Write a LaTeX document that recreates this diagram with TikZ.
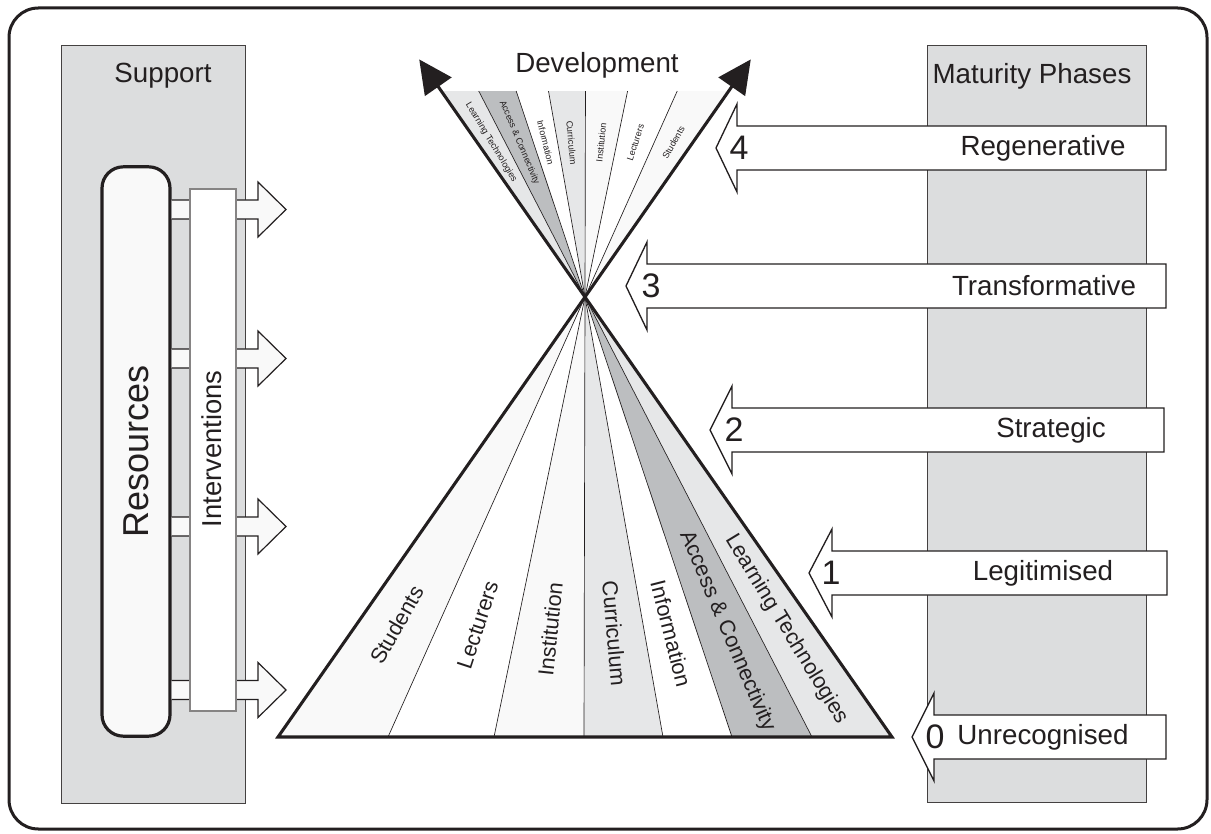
\documentclass[tikz,border=0pt]{standalone}
\usepackage{fontspec}
\setmainfont{Liberation Sans}
\usetikzlibrary{calc,arrows.meta}

\definecolor{ink}{HTML}{231F20}
\definecolor{colgray}{HTML}{DCDDDE}
\definecolor{paper}{HTML}{F9F9F9}
\definecolor{lightgray}{HTML}{E6E7E8}
\definecolor{midgray}{HTML}{BCBEC0}

\begin{document}
\begin{tikzpicture}[x=0.75pt, y=-0.75pt, color=ink,
    column/.style={draw=ink!85, fill=colgray, line width=0.6pt},
    titletext/.style={inner sep=0pt, font=\fontsize{20.8}{25}\selectfont},
    wedgetext/.style={inner sep=0pt, font=\fontsize{16.3}{19}\selectfont},
    fantext/.style={inner sep=0pt, font=\fontsize{6.8}{8}\selectfont},
    phasenum/.style={inner sep=0pt, font=\fontsize{25.5}{30}\selectfont},
    supparrow/.style={draw=ink, fill=paper, line width=0.9pt},
    phasearrow/.style={draw=ink, fill=white, line width=1pt},
    divline/.style={draw=ink, line width=0.5pt},
    fanedge/.style={draw=ink, line width=2.3pt,
        {Triangle[length=25pt,width=24pt]}-{Triangle[length=25pt,width=24pt]}}]

        \useasboundingbox (0,0) rectangle (1211,834);

        % Outer frame
        \draw[line width=2.25pt, rounded corners=22pt] (9,8) rectangle (1207,829);

        % Side columns
        \draw[column] (61,45) rectangle (245,803);
        \draw[column] (927,45) rectangle (1146,802);
        \node[titletext] (support) at (163,76) {Support};
        \node[titletext] (maturity) at (1032,76) {Maturity Phases};

        % Resources
        \node[draw=ink, line width=2.4pt, fill=paper, rounded corners=16pt,
              inner sep=0pt, minimum width=51pt, minimum height=427pt] (res) at (136,451.5) {};
        \node[rotate=90, inner sep=0pt, font=\fontsize{27}{32}\selectfont] (restext) at (res.center) {Resources};

        % Arrows out of the support column
        \draw[supparrow] (res.east |- 0,200) -- (258,200) -- (258,182) -- (286,209.5)
            -- (258,237) -- (258,219) -- (res.east |- 0,219);
        \draw[supparrow] (res.east |- 0,349) -- (258,349) -- (258,331) -- (286,358.5)
            -- (258,386) -- (258,368) -- (res.east |- 0,368);
        \draw[supparrow] (res.east |- 0,517) -- (258,517) -- (258,499) -- (286,526.5)
            -- (258,554) -- (258,536) -- (res.east |- 0,536);
        \draw[supparrow] (res.east |- 0,680.5) -- (258,680.5) -- (258,662.5) -- (286,690)
            -- (258,717.5) -- (258,699.5) -- (res.east |- 0,699.5);

        % Interventions
        \node[draw=ink!55, line width=1pt, fill=white, inner sep=0pt,
              minimum width=34.5pt, minimum height=391.5pt] (intv) at (213,450) {};
        \node[rotate=90, inner sep=0pt, font=\fontsize{20.5}{24}\selectfont] (intvtext) at (212,449) {Interventions};

        % Base points of the lower triangle
        \coordinate (apex) at (585,297);
        \coordinate (b0) at (278,737);
        \coordinate (b1) at (388,737);
        \coordinate (b2) at (494,737);
        \coordinate (b3) at (584,737);
        \coordinate (b4) at (663,737);
        \coordinate (b5) at (732,737);
        \coordinate (b6) at (812,737);
        \coordinate (b7) at (892,737);

        % Mirrored points of the upper fan
        \coordinate (t0) at ($(apex)!-0.468!(b0)$);
        \coordinate (t1) at ($(apex)!-0.468!(b1)$);
        \coordinate (t2) at ($(apex)!-0.468!(b2)$);
        \coordinate (t3) at ($(apex)!-0.468!(b3)$);
        \coordinate (t4) at ($(apex)!-0.468!(b4)$);
        \coordinate (t5) at ($(apex)!-0.468!(b5)$);
        \coordinate (t6) at ($(apex)!-0.468!(b6)$);
        \coordinate (t7) at ($(apex)!-0.468!(b7)$);

        % Wedge fills
        \fill[paper] (t0) -- (b0) -- (b1) -- (t1) -- cycle;
        \fill[white] (t1) -- (b1) -- (b2) -- (t2) -- cycle;
        \fill[paper] (t2) -- (b2) -- (b3) -- (t3) -- cycle;
        \fill[lightgray] (t3) -- (b3) -- (b4) -- (t4) -- cycle;
        \fill[white] (t4) -- (b4) -- (b5) -- (t5) -- cycle;
        \fill[midgray] (t5) -- (b5) -- (b6) -- (t6) -- cycle;
        \fill[lightgray] (t6) -- (b6) -- (b7) -- (t7) -- cycle;

        % Dividing lines
        \draw[divline] (t1) -- (b1);
        \draw[divline] (t2) -- (b2);
        \draw[divline] (t3) -- (b3);
        \draw[divline] (t4) -- (b4);
        \draw[divline] (t5) -- (b5);
        \draw[divline] (t6) -- (b6);

        % Thick edges with development arrows
        \coordinate (tipR) at ($(apex)!-0.54!(b0)$);
        \coordinate (tipL) at ($(apex)!-0.54!(b7)$);
        \draw[fanedge] (tipR) -- (b0) -- (b7) -- (tipL);
        \node[titletext] (dev) at (597,65) {Development};

        % Middles of the wedges
        \coordinate (m0) at ($(b0)!0.5!(b1)$);
        \coordinate (m1) at ($(b1)!0.5!(b2)$);
        \coordinate (m2) at ($(b2)!0.5!(b3)$);
        \coordinate (m3) at ($(b3)!0.5!(b4)$);
        \coordinate (m4) at ($(b4)!0.5!(b5)$);
        \coordinate (m5) at ($(b5)!0.5!(b6)$);
        \coordinate (m6) at ($(b6)!0.5!(b7)$);

        % Lower labels
        \node[wedgetext, rotate=60.2] (students) at ($(apex)!0.745!(m0)$) {Students};
        \node[wedgetext, rotate=71.9] (lecturers) at ($(apex)!0.745!(m1)$) {Lecturers};
        \node[wedgetext, rotate=84] (institution) at ($(apex)!0.755!(m2)$) {Institution};
        \node[wedgetext, rotate=-85] (curriculum) at ($(apex)!0.765!(m3)$) {Curriculum};
        \node[wedgetext, rotate=-75.7] (information) at ($(apex)!0.765!(m4)$) {Information};
        \node[wedgetext, rotate=-67] (access) at ($(apex)!0.76!(m5)$) {Access \& Connectivity};
        \node[wedgetext, rotate=-58.75] (learning) at ($(apex)!0.755!(m6)$) {Learning Technologies};

        % Upper labels
        \node[fantext, rotate=60.2] (tstudents) at ($(apex)!-0.351!(m0)$) {Students};
        \node[fantext, rotate=71.9] (tlecturers) at ($(apex)!-0.351!(m1)$) {Lecturers};
        \node[fantext, rotate=84] (tinstitution) at ($(apex)!-0.351!(m2)$) {Institution};
        \node[fantext, rotate=-85] (tcurriculum) at ($(apex)!-0.351!(m3)$) {Curriculum};
        \node[fantext, rotate=-75.7] (tinformation) at ($(apex)!-0.351!(m4)$) {Information};
        \node[fantext, rotate=-67] (taccess) at ($(apex)!-0.351!(m5)$) {Access \& Connectivity};
        \node[fantext, rotate=-58.75] (tlearning) at ($(apex)!-0.351!(m6)$) {Learning Technologies};

        % Maturity phase arrows
        \draw[phasearrow] (1166,126) -- (737,126) -- (737,104) -- (716,148) -- (737,192) -- (737,170) -- (1166,170) -- cycle;
        \node[phasenum] (n4) at (739,148) {4};
        \node[titletext] (regen) at (1043,148) {Regenerative};

        \draw[phasearrow] (1166,264) -- (647,264) -- (647,242) -- (626,286) -- (647,330) -- (647,308) -- (1166,308) -- cycle;
        \node[phasenum] (n3) at (651,286) {3};
        \node[titletext] (transf) at (1044,286) {Transformative};

        \draw[phasearrow] (1164,408) -- (732,408) -- (732,386) -- (710,430) -- (732,474) -- (732,452) -- (1164,452) -- cycle;
        \node[phasenum] (n2) at (734,430) {2};
        \node[titletext] (strat) at (1051,430) {Strategic};

        \draw[phasearrow] (1167,551) -- (832,551) -- (832,529) -- (809,573) -- (832,617) -- (832,595) -- (1167,595) -- cycle;
        \node[phasenum] (n1) at (831,573) {1};
        \node[titletext] (legit) at (1043,573) {Legitimised};

        \draw[phasearrow] (1166,715) -- (934,715) -- (934,693) -- (912,737) -- (934,781) -- (934,759) -- (1166,759) -- cycle;
        \node[phasenum] (n0) at (935,737) {0};
        \node[titletext] (unrec) at (1043,737) {Unrecognised};
    \end{tikzpicture}
\end{document}
